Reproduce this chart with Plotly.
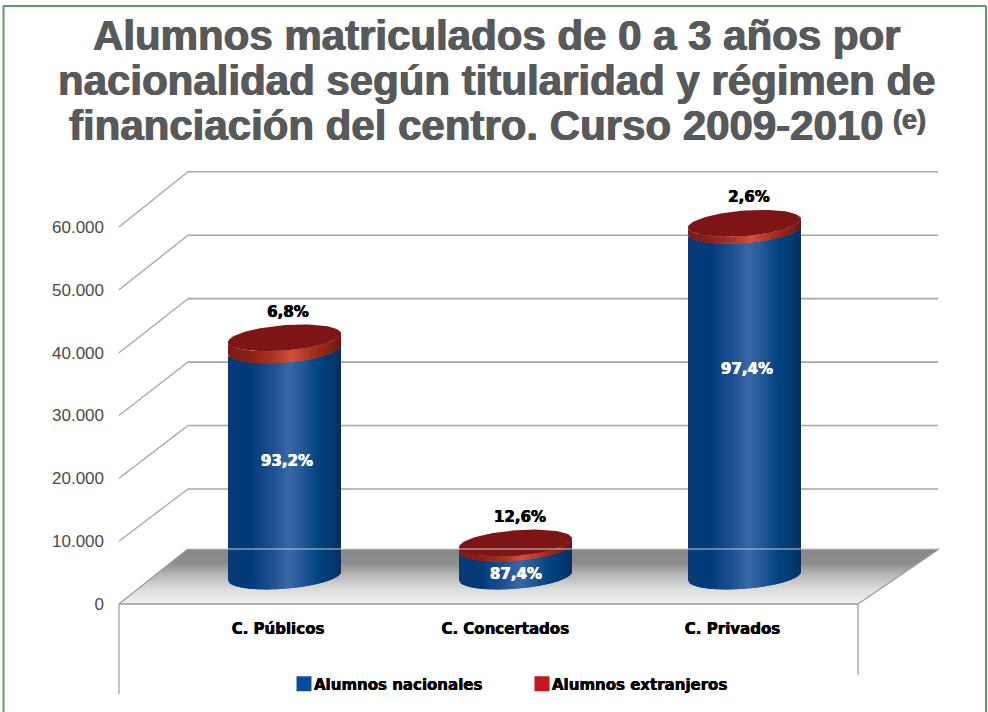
import numpy as np
import plotly.graph_objects as go

# ---------- data ----------
categories = ["C. Públicos", "C. Concertados", "C. Privados"]
nacionales = [36000, 4450, 55030]
extranjeros = [1900, 800, 1100]
pct_nacionales = ["93,2%", "87,4%", "97,4%"]
pct_extranjeros = ["6,8%", "12,6%", "2,6%"]
y_ticks = [0, 10000, 20000, 30000, 40000, 50000, 60000]
y_labels = ["0", "10.000", "20.000", "30.000", "40.000", "50.000", "60.000"]
title_lines = [
    "Alumnos matriculados de 0 a 3 años por",
    "nacionalidad según titularidad y régimen de",
    "financiación del centro. Curso 2009-2010",
]
title_note = "(e)"
series_names = ["Alumnos nacionales", "Alumnos extranjeros"]

# ---------- layout constants (pixels of the 988x712 page) ----------
W, H = 988, 712
L, BOTTOM = 105, 604          # plot area left edge, y pixel of value 0
PPU = 377 / 60000             # pixels per unit on the front plane
X0, DX = 278.0, 227.25        # pixel of category 0, pixels per category
BAR_CENTER_PX = [284.5, 515.5, 744.5]
BAR_A = 56.5                  # horizontal radius
BAR_B, BAR_TILT = 12.7, 4.3   # vertical radius and tilt of the ellipses
BASE_DEPTH_PX = 28            # base centre above the front plane
INNER_LABEL_RISE_PX = [114, 1, 206]
INNER_LABEL_X_PX = [287, 516, 747]
TOP_LABEL_X_PX = [288, 520, 749]
TOP_LABEL_RISE_PX = 25
N_STRIPS = 56

BLUE_STOPS = [(0, "#0a3a78"), (0.2, "#033b7a"), (0.38, "#1c4f90"), (0.54, "#3a68a8"),
              (0.68, "#1f5594"), (0.8, "#01447f"), (0.93, "#04386f"), (1, "#0a2f60")]
RED_STOPS = [(0, "#7c1a16"), (0.2, "#8a2218"), (0.4, "#a83424"), (0.56, "#d4503a"),
             (0.75, "#a5301f"), (1, "#701512")]
FLOOR_STOPS = [(0, "#888888"), (0.25, "#8c8c8c"), (0.45, "#b4b4b4"), (0.75, "#dedfdf"), (1, "#eff0f0")]
TOP_COLOR = "#7d1416"
LINE_COLOR = "#a6a6a6"
TEXT_FONT = "DejaVu Sans"


def heavy(color, d=0.35):
    return "%gpx 0 0 %s, -%gpx 0 0 %s" % (d, color, d, color)


def hex2rgb(c):
    return np.array([int(c[i:i + 2], 16) for i in (1, 3, 5)], float)


def ramp(stops, t):
    for (a, ca), (b, cb) in zip(stops, stops[1:]):
        if t <= b:
            f = (t - a) / (b - a)
            r = hex2rgb(ca) * (1 - f) + hex2rgb(cb) * f
            return "rgb(%d,%d,%d)" % tuple(r)
    return stops[-1][1]


def xd(px):
    return (px - X0) / DX


def yd(px):
    return (BOTTOM - px) / PPU


def xp(px):
    return (px - L) / (W - L)


def yp(px):
    return (BOTTOM - px) / BOTTOM


fig = go.Figure()
shapes = []

# floor
FLOOR_TOP, FLOOR_BOT = 549, 604
n_bands = FLOOR_BOT - FLOOR_TOP
for i in range(n_bands):
    t0, t1 = i / n_bands, min((i + 1.3) / n_bands, 1)
    y0, y1 = FLOOR_TOP + t0 * n_bands, FLOOR_TOP + t1 * n_bands
    lft = lambda y: 188 - 69 * (y - FLOOR_TOP) / n_bands
    rgt = lambda y: 939 - 81 * (y - FLOOR_TOP) / n_bands
    path = "M%f,%f L%f,%f L%f,%f L%f,%f Z" % (xd(lft(y0)), yd(y0), xd(rgt(y0)), yd(y0),
                                               xd(rgt(y1)), yd(y1), xd(lft(y1)), yd(y1))
    shapes.append(dict(type="path", path=path, xref="x", yref="y", layer="below",
                       fillcolor=ramp(FLOOR_STOPS, i / (n_bands - 1)), line=dict(width=0)))

# walls: one back line and one side line for each axis tick
for v in y_ticks:
    back_px = 552.4 - v * PPU * 1.0096
    if v > 0:
        shapes.append(dict(type="line", xref="x", yref="y", layer="below",
                           x0=xd(119), x1=xd(188), y0=v, y1=yd(back_px),
                           line=dict(color=LINE_COLOR, width=1.3)))
        shapes.append(dict(type="line", xref="x", yref="y", layer="below",
                           x0=xd(188), x1=xd(938), y0=yd(back_px), y1=yd(back_px),
                           line=dict(color=LINE_COLOR, width=1.6)))

# floor outline and open box stubs
shapes += [
    dict(type="line", xref="x", yref="y", x0=xd(119), x1=xd(188), y0=yd(604), y1=yd(549),
         line=dict(color="#999999", width=1.2)),
    dict(type="line", xref="x", yref="y", x0=xd(858), x1=xd(939), y0=yd(604), y1=yd(549),
         line=dict(color="#999999", width=1.2)),
    dict(type="line", xref="x", yref="y", x0=xd(188), x1=xd(939), y0=yd(549), y1=yd(549),
         line=dict(color="#c8c8c8", width=1)),
    dict(type="line", xref="paper", yref="paper", x0=xp(119), x1=xp(858), y0=yp(604), y1=yp(604),
         line=dict(color="#9a9a9a", width=1.4)),
    dict(type="line", xref="paper", yref="paper", x0=xp(119), x1=xp(119), y0=yp(604), y1=yp(694),
         line=dict(color="#9a9a9a", width=1.2)),
    dict(type="line", xref="paper", yref="paper", x0=xp(858), x1=xp(858), y0=yp(604), y1=yp(675),
         line=dict(color="#9a9a9a", width=1.2)),
]

# green page frame
FRAME = "#5f9a6e"
shapes += [
    dict(type="line", xref="paper", yref="paper", x0=xp(3), x1=xp(986), y0=yp(6), y1=yp(6),
         line=dict(color=FRAME, width=2)),
    dict(type="line", xref="paper", yref="paper", x0=xp(3.5), x1=xp(3.5), y0=yp(6), y1=yp(712),
         line=dict(color=FRAME, width=2)),
    dict(type="line", xref="paper", yref="paper", x0=xp(986), x1=xp(986), y0=yp(6), y1=yp(712),
         line=dict(color=FRAME, width=2)),
]


def lower_arc(cx, v_center, us):
    """Front edge of a tilted ellipse whose centre sits at value v_center."""
    base_px = BOTTOM - BASE_DEPTH_PX - v_center * PPU
    px = base_px + BAR_B * np.sqrt(np.clip(1 - us ** 2, 0, 1)) - BAR_TILT * us
    return cx + BAR_A * us, px


def add_poly(xs_px, ys_px, color):
    fig.add_trace(go.Scatter(x=xd(np.asarray(xs_px)), y=yd(np.asarray(ys_px)), mode="lines",
                             fill="toself", fillcolor=color, line=dict(color=color, width=0),
                             hoverinfo="skip", showlegend=False))


def add_side(cx, v0, v1, stops):
    edges = np.linspace(-1, 1, N_STRIPS + 1)
    for i in range(N_STRIPS):
        # every strip runs on under the next one, so no seam shows between them
        right = edges[min(i + 2, N_STRIPS)]
        u = np.linspace(edges[i], right, 6)
        xa, ya = lower_arc(cx, v0, u)
        xb, yb = lower_arc(cx, v1, u)
        add_poly(np.r_[xa, xb[::-1]], np.r_[ya, yb[::-1]],
                 ramp(stops, (i + 0.5) / N_STRIPS))


for cx, nat, ext in zip(BAR_CENTER_PX, nacionales, extranjeros):
    total = nat + ext
    add_side(cx, 0, nat, BLUE_STOPS)
    add_side(cx, nat, total, RED_STOPS)
    t = np.linspace(0, 2 * np.pi, 90)
    top_px = BOTTOM - BASE_DEPTH_PX - total * PPU
    add_poly(cx + BAR_A * np.cos(t),
             top_px + BAR_B * np.sin(t) - BAR_TILT * np.cos(t), TOP_COLOR)

# data labels
totals = [n + e for n, e in zip(nacionales, extranjeros)]
fig.add_trace(go.Scatter(
    x=[xd(p) for p in TOP_LABEL_X_PX],
    y=[t + (BASE_DEPTH_PX + TOP_LABEL_RISE_PX) / PPU for t in totals],
    mode="text", text=pct_extranjeros, textposition="middle center",
    textfont=dict(family=TEXT_FONT, size=15, color="#000000", weight=700, shadow=heavy("#000000")),
    hoverinfo="skip", showlegend=False))
fig.add_trace(go.Scatter(
    x=[xd(p) for p in INNER_LABEL_X_PX],
    y=[(BASE_DEPTH_PX + r) / PPU for r in INNER_LABEL_RISE_PX],
    mode="text", text=pct_nacionales, textposition="middle center",
    textfont=dict(family=TEXT_FONT, size=15, color="#ffffff", weight=700, shadow=heavy("#ffffff")),
    hoverinfo="skip", showlegend=False))

# legend entries
for name, col in zip(series_names, ["#0a4c9c", "#c4161c"]):
    fig.add_trace(go.Scatter(x=[None], y=[None], mode="markers", name=name,
                             marker=dict(symbol="square", size=15, color=col)))

# title
annotations = []
for line, cx_px, py in zip(title_lines, [497, 497, 476], [35, 80, 126]):
    annotations.append(dict(text=line, xref="paper", yref="paper", x=xp(cx_px), y=yp(py),
                            xanchor="center", yanchor="middle", showarrow=False,
                            font=dict(family="Liberation Sans", size=42, color="#58595b", weight=700,
                                      shadow=heavy("#58595b", 0.6))))
annotations.append(dict(text=title_note, xref="paper", yref="paper", x=xp(909), y=yp(120),
                        xanchor="center", yanchor="middle", showarrow=False,
                        font=dict(family="Liberation Sans", size=27, color="#58595b", weight=700,
                                  shadow=heavy("#58595b", 0.4))))

fig.update_layout(
    width=W, height=H, autosize=False,
    margin=dict(l=L, r=0, t=0, b=H - BOTTOM, pad=0),
    paper_bgcolor="#ffffff", plot_bgcolor="#ffffff",
    shapes=shapes, annotations=annotations,
    xaxis=dict(range=[xd(L), xd(W)], showgrid=False, zeroline=False, showline=False,
               tickmode="array", tickvals=list(range(len(categories))), ticktext=categories,
               ticks="outside", ticklen=11, tickcolor="rgba(0,0,0,0)",
               tickfont=dict(family=TEXT_FONT, size=15, color="#000000", weight=700,
                             shadow=heavy("#000000", 0.25))),
    yaxis=dict(range=[0, BOTTOM / PPU], showgrid=False, zeroline=False, showline=False,
               tickmode="array", tickvals=y_ticks, ticktext=y_labels,
               tickfont=dict(family="Liberation Sans", size=17, color="#4a4a4a")),
    legend=dict(orientation="h", x=xp(274), y=yp(684), xanchor="left", yanchor="middle",
                entrywidth=193, entrywidthmode="pixels",
                font=dict(family=TEXT_FONT, size=15, color="#000000", weight=700,
                          shadow=heavy("#000000", 0.25)),
                bgcolor="rgba(0,0,0,0)", itemclick=False, itemdoubleclick=False),
    hovermode=False,
)

NUDGE_LEGEND = ("document.body.style.margin='0';document.body.style.overflow='hidden';"
                "document.querySelectorAll('.legendsymbols').forEach(function(e){"
                "e.setAttribute('transform','translate(10,0)');});")
fig.write_html("out.html", config={"displayModeBar": False}, post_script=NUDGE_LEGEND)
